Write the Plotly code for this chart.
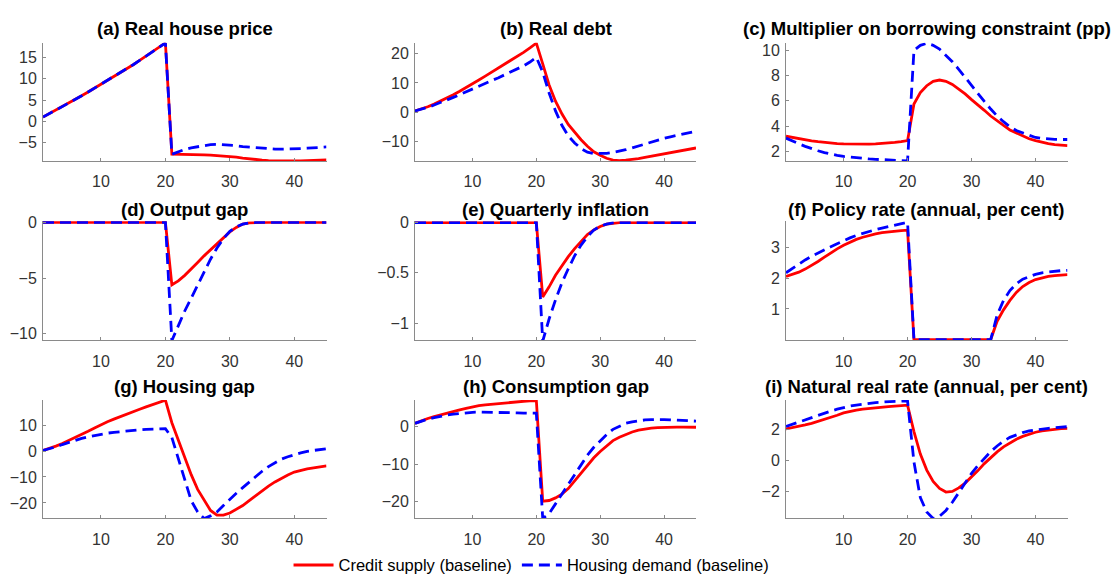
import plotly.graph_objects as go

W, H = 1112, 583
quarters = list(range(1, 46))

titles = ["(a) Real house price", "(b) Real debt", "(c) Multiplier on borrowing constraint (pp)",
          "(d) Output gap", "(e) Quarterly inflation", "(f) Policy rate (annual, per cent)",
          "(g) Housing gap", "(h) Consumption gap", "(i) Natural real rate (annual, per cent)"]

series_names = ["Credit supply (baseline)", "Housing demand (baseline)"]

# (a) Real house price
a_credit = [1.0, 1.8, 2.6, 3.4, 4.2, 5.1, 6.0, 6.9, 7.8, 8.7, 9.6, 10.5, 11.4, 12.4, 13.3, 14.3, 15.3, 16.3, 17.3, 18.4,
            -7.7, -7.7, -7.75, -7.8, -7.8, -7.85, -7.9, -8.0, -8.1, -8.2, -8.4, -8.6, -8.8, -9.0, -9.1, -9.2, -9.25,
            -9.3, -9.3, -9.3, -9.25, -9.2, -9.15, -9.1, -9.05]
a_housing = [1.0, 1.8, 2.6, 3.4, 4.2, 5.1, 6.0, 6.9, 7.8, 8.7, 9.6, 10.5, 11.4, 12.4, 13.3, 14.3, 15.3, 16.3, 17.3, 18.4,
             -7.7, -7.1, -6.6, -6.2, -5.9, -5.6, -5.45, -5.4, -5.45, -5.55, -5.7, -5.9, -6.05, -6.2, -6.35, -6.45,
             -6.5, -6.5, -6.5, -6.45, -6.4, -6.3, -6.2, -6.1, -6.0]
# (b) Real debt
b_credit = [0.5, 1.1, 1.9, 2.8, 3.8, 4.9, 6.0, 7.2, 8.4, 9.7, 11.0, 12.3, 13.6, 15.0, 16.3, 17.6, 19.0, 20.4, 21.9, 23.5,
            16.5, 9.3, 3.8, -0.5, -4.1, -6.9, -9.3, -11.5, -13.4, -14.6, -15.6, -16.2, -16.4, -16.2, -16.0, -15.7,
            -15.3, -14.9, -14.5, -14.1, -13.7, -13.3, -12.9, -12.5, -12.1]
b_housing = [0.5, 1.0, 1.7, 2.5, 3.3, 4.2, 5.1, 6.0, 7.0, 7.9, 8.9, 9.8, 10.8, 11.7, 12.7, 13.7, 14.7, 15.8, 17.1, 18.7,
             13.7, 6.6, 0.5, -4.4, -8.0, -10.4, -12.3, -13.5, -14.0, -14.0, -13.9, -13.6, -13.2, -12.7, -12.1, -11.4,
             -10.7, -10.0, -9.4, -8.8, -8.3, -7.8, -7.3, -6.8, -6.4]
# (c) Multiplier on borrowing constraint
c_credit = [3.2, 3.1, 3.0, 2.92, 2.84, 2.77, 2.71, 2.66, 2.62, 2.59, 2.57, 2.56, 2.56, 2.57, 2.59, 2.62, 2.66, 2.71, 2.77, 2.85,
            5.75, 6.65, 7.2, 7.55, 7.65, 7.55, 7.3, 6.95, 6.55, 6.1, 5.7, 5.25, 4.8, 4.4, 4.05, 3.7, 3.45, 3.2, 3.0,
            2.85, 2.72, 2.62, 2.54, 2.48, 2.45]
c_housing = [3.05, 2.8, 2.6, 2.4, 2.2, 2.05, 1.9, 1.78, 1.68, 1.6, 1.54, 1.48, 1.43, 1.4, 1.37, 1.34, 1.31, 1.29, 1.27, 1.25,
             10.0, 10.4, 10.55, 10.4, 10.1, 9.6, 9.1, 8.5, 7.85, 7.2, 6.55, 5.95, 5.35, 4.8, 4.35, 3.95, 3.65, 3.45,
             3.25, 3.1, 3.03, 2.97, 2.95, 2.94, 2.94]
# (d) Output gap
d_credit = [0] * 20 + [-5.6, -5.25, -4.75, -4.2, -3.6, -3.0, -2.45, -1.9, -1.35, -0.85, -0.45, -0.15, -0.03] + [0] * 12
d_housing = [0] * 20 + [-10.6, -9.25, -7.95, -6.8, -5.65, -4.5, -3.3, -2.3, -1.45, -0.8, -0.4, -0.15, -0.03] + [0] * 12
# (e) Quarterly inflation
e_credit = [0] * 20 + [-0.74, -0.64, -0.525, -0.43, -0.34, -0.26, -0.19, -0.12, -0.074, -0.04, -0.016, -0.006, 0] + [0] * 12
e_housing = [0] * 20 + [-1.18, -0.96, -0.77, -0.6, -0.46, -0.33, -0.225, -0.14, -0.074, -0.035, -0.016, -0.004, 0] + [0] * 12
# (f) Policy rate
f_credit = [2.06, 2.12, 2.2, 2.3, 2.42, 2.55, 2.69, 2.83, 2.96, 3.08, 3.18, 3.27, 3.34, 3.4, 3.45, 3.49, 3.52, 3.54, 3.56, 3.57] \
    + [0] * 13 + [0.6, 0.97, 1.28, 1.54, 1.73, 1.86, 1.96, 2.02, 2.06, 2.09, 2.11, 2.12]
f_housing = [2.18, 2.33, 2.47, 2.6, 2.72, 2.83, 2.93, 3.03, 3.13, 3.23, 3.32, 3.4, 3.47, 3.53, 3.59, 3.64, 3.69, 3.74, 3.78, 3.83] \
    + [0] * 13 + [0.8, 1.28, 1.6, 1.82, 1.97, 2.06, 2.13, 2.18, 2.21, 2.23, 2.25, 2.26]
# (g) Housing gap
g_credit = [0.25, 1.0, 1.9, 2.9, 4.0, 5.2, 6.4, 7.6, 8.9, 10.2, 11.3, 12.3, 13.3, 14.3, 15.2, 16.1, 17.0, 17.9, 18.8, 19.6,
            10.9, 4.0, -2.9, -9.1, -14.8, -19.1, -22.9, -24.7, -24.7, -23.9, -22.6, -21.0, -19.1, -17.2, -15.3, -13.5,
            -11.9, -10.4, -9.2, -8.1, -7.4, -6.9, -6.5, -6.1, -5.75]
g_housing = [0.25, 0.9, 1.6, 2.5, 3.4, 4.2, 4.9, 5.5, 6.0, 6.5, 6.9, 7.2, 7.5, 7.8, 8.0, 8.2, 8.35, 8.5, 8.55, 8.6,
             5.2, -2.9, -11.6, -19.1, -23.5, -26.0, -25.0, -23.5, -21.0, -18.5, -16.3, -14.1, -11.9, -9.8, -7.8, -6.0,
             -4.5, -3.1, -2.2, -1.4, -0.7, -0.1, 0.3, 0.6, 0.9]
# (h) Consumption gap
h_credit = [0.9, 1.6, 2.2, 2.7, 3.2, 3.7, 4.1, 4.5, 4.9, 5.3, 5.6, 5.8, 6.0, 6.2, 6.4, 6.55, 6.7, 6.8, 6.9, 7.0,
            -19.9, -19.7, -19.0, -18.0, -16.5, -14.5, -12.4, -10.2, -8.3, -6.6, -5.1, -3.7, -2.8, -2.0, -1.4, -0.9,
            -0.6, -0.35, -0.25, -0.15, -0.1, -0.1, -0.1, -0.12, -0.15]
h_housing = [0.9, 1.5, 2.0, 2.4, 2.8, 3.1, 3.35, 3.55, 3.7, 3.85, 3.9, 3.9, 3.9, 3.85, 3.8, 3.75, 3.7, 3.65, 3.6, 3.6,
             -24.5, -23.2, -20.6, -18.0, -15.4, -12.8, -10.2, -7.6, -5.5, -3.7, -2.1, -0.7, 0.2, 0.9, 1.3, 1.6, 1.8,
             1.9, 1.95, 1.9, 1.85, 1.8, 1.7, 1.6, 1.5]
# (i) Natural real rate
i_credit = [2.05, 2.12, 2.2, 2.3, 2.4, 2.52, 2.65, 2.78, 2.93, 3.08, 3.18, 3.26, 3.32, 3.37, 3.41, 3.45, 3.49, 3.52, 3.55, 3.58,
            1.87, 0.42, -0.62, -1.35, -1.8, -2.04, -2.0, -1.77, -1.46, -1.08, -0.65, -0.2, 0.2, 0.56, 0.88, 1.15, 1.38,
            1.56, 1.71, 1.83, 1.92, 1.98, 2.03, 2.06, 2.08]
i_housing = [2.2, 2.35, 2.5, 2.65, 2.8, 2.95, 3.08, 3.2, 3.32, 3.44, 3.52, 3.59, 3.65, 3.7, 3.75, 3.78, 3.81, 3.83, 3.84, 3.85,
             -0.1, -2.4, -3.33, -3.75, -3.6, -3.23, -2.7, -2.08, -1.46, -0.83, -0.32, 0.15, 0.58, 0.94, 1.25, 1.5, 1.67,
             1.81, 1.91, 1.98, 2.04, 2.08, 2.12, 2.16, 2.19]

credit_all = [a_credit, b_credit, c_credit, d_credit, e_credit, f_credit, g_credit, h_credit, i_credit]
housing_all = [a_housing, b_housing, c_housing, d_housing, e_housing, f_housing, g_housing, h_housing, i_housing]

y_ranges = [[-9.35, 18.45], [-16.6, 23.65], [1.22, 10.6],
            [-10.6, 0.1], [-1.174, 0.012], [-0.03, 3.86],
            [-26.0, 19.7], [-24.5, 7.15], [-3.75, 3.92]]
y_ticks = [[-5, 0, 5, 10, 15], [-10, 0, 10, 20], [2, 4, 6, 8, 10],
           [-10, -5, 0], [-1, -0.5, 0], [1, 2, 3],
           [-20, -10, 0, 10], [-20, -10, 0], [-2, 0, 2]]
x_ticks = [10, 20, 30, 40]

# layout geometry in pixels
col_px = [(43, 326.5), (415, 696), (786, 1067.5)]
row_px = [(36.7, 158.3), (220, 342.3), (403.3, 525)]
title_px = [22, 208, 390]

FONT = "Liberation Sans, Arial, sans-serif"
AX_COL = "#8a8a8a"
TXT_COL = "#333333"
RED = "#ff0000"
BLUE = "#0000ff"

fig = go.Figure()
layout = {}
annotations = []
for k in range(9):
    r, c = divmod(k, 3)
    sfx = "" if k == 0 else str(k + 1)
    xa, ya = "x" + sfx, "y" + sfx
    fig.add_trace(go.Scatter(x=quarters, y=credit_all[k], mode="lines", xaxis=xa, yaxis=ya,
                             name=series_names[0], legendgroup="c", showlegend=(k == 0),
                             line=dict(color=RED, width=2.8)))
    fig.add_trace(go.Scatter(x=quarters, y=housing_all[k], mode="lines", xaxis=xa, yaxis=ya,
                             name=series_names[1], legendgroup="h", showlegend=(k == 0),
                             line=dict(color=BLUE, width=2.8, dash="11px,6px")))
    x0, x1 = col_px[c]
    yt, yb = row_px[r]
    common = dict(showline=True, linecolor=AX_COL, linewidth=1, ticks="inside", ticklen=3,
                  tickcolor=AX_COL, tickwidth=1, showgrid=False, zeroline=False, mirror=False,
                  tickfont=dict(family=FONT, size=16, color=TXT_COL))
    layout["xaxis" + sfx] = dict(domain=[x0 / W, x1 / W], anchor=ya, range=[1, 45],
                                 tickvals=x_ticks, ticklabelstandoff=6, **common)
    layout["yaxis" + sfx] = dict(domain=[1 - yb / H, 1 - yt / H], anchor=xa, range=y_ranges[k],
                                 tickvals=y_ticks[k], ticklabelstandoff=2, **common)
    annotations.append(dict(text="<b>" + titles[k] + "</b>", x=(x0 + x1) / 2 / W, y=1 - title_px[r] / H,
                            xref="paper", yref="paper", xanchor="center", yanchor="middle",
                            showarrow=False, font=dict(family=FONT, size=18.5, color="#000000")))

fig.update_layout(**layout)
fig.update_layout(
    width=W, height=H, margin=dict(l=0, r=0, t=0, b=0),
    plot_bgcolor="white", paper_bgcolor="white",
    annotations=annotations,
    legend=dict(orientation="h", x=0.478, xanchor="center", y=1 - 573 / H, yanchor="middle",
                font=dict(family=FONT, size=16.5, color="#000000"), itemwidth=40,
                bgcolor="rgba(0,0,0,0)", tracegroupgap=0),
)
fig.write_html("out.html")
